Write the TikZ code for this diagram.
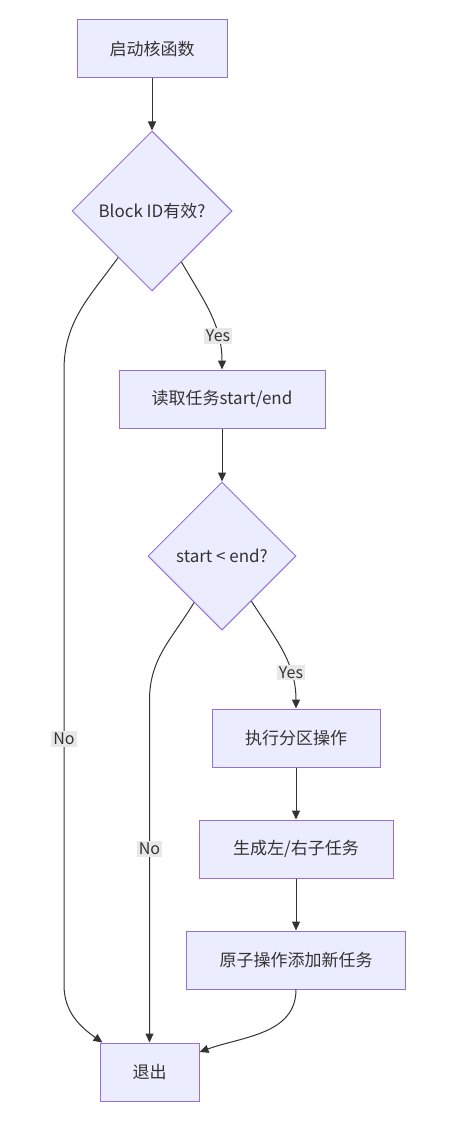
\documentclass[tikz,border=0pt]{standalone}
\usepackage{fontspec}
\setmainfont{Noto Sans CJK SC}
\usetikzlibrary{shapes.geometric,arrows.meta}
\definecolor{boxfill}{HTML}{ECECFF}
\definecolor{boxline}{HTML}{9370DB}
\definecolor{edgecol}{HTML}{333333}
\definecolor{lblbg}{HTML}{E8E8E8}
\tikzset{
  box/.style={draw=boxline, fill=boxfill, line width=1pt, minimum height=58pt, text=edgecol, font=\fontsize{17}{20}\selectfont},
  decision/.style={box, diamond, aspect=1, inner sep=0pt},
  arr/.style={draw=edgecol, line width=1pt, -{Triangle[length=9pt,width=8pt]}},
  lbl/.style={fill=lblbg, text=edgecol, inner sep=2pt, font=\fontsize{16}{19}\selectfont}
}
\begin{document}
\begin{tikzpicture}[x=1pt,y=1pt]
\useasboundingbox (0,0) rectangle (450,-1123);
\node[box, minimum width=150pt] (start) at (152,-49) {启动核函数};
\node[decision, minimum width=160pt, minimum height=160pt] (valid) at (152,-211) {Block ID有效?};
\node[box, minimum width=206pt] (readtask) at (222,-399) {读取任务start/end};
\node[decision, minimum width=148pt, minimum height=148pt] (cmp) at (222,-556) {start < end?};
\node[box, minimum width=168pt] (part) at (296,-738) {执行分区操作};
\node[box, minimum width=194pt] (gen) at (296,-849) {生成左/右子任务};
\node[box, minimum width=219pt] (push) at (296,-960) {原子操作添加新任务};
\node[box, minimum width=99pt] (exitn) at (149.5,-1072) {退出};
\coordinate (noA) at (64,-370);
\coordinate (noB) at (64,-985);
\coordinate (noC) at (149.5,-700);
\foreach \a/\b in {start/valid, readtask/cmp, part/gen, gen/push}
  \draw[arr] (\a) -- (\b);
\draw[arr] (valid.-60) to[out=-60,in=90] node[lbl,pos=0.72] {Yes} (readtask.north);
\draw[arr] (valid.-126) to[out=-126,in=90] (noA) -- node[lbl,pos=0.6] {No} (noB)
  to[out=-90,in=145] ([xshift=3pt]exitn.north west);
\draw[arr] (cmp.-57) to[out=-57,in=90] node[lbl,pos=0.7] {Yes} (part.north);
\draw[arr] (cmp.-121) to[out=-121,in=90] (noC) -- node[lbl,pos=0.434] {No} (exitn.north);
\draw[arr] (push.south) to[out=-90,in=20] ([yshift=20pt]exitn.east);
\end{tikzpicture}
\end{document}
